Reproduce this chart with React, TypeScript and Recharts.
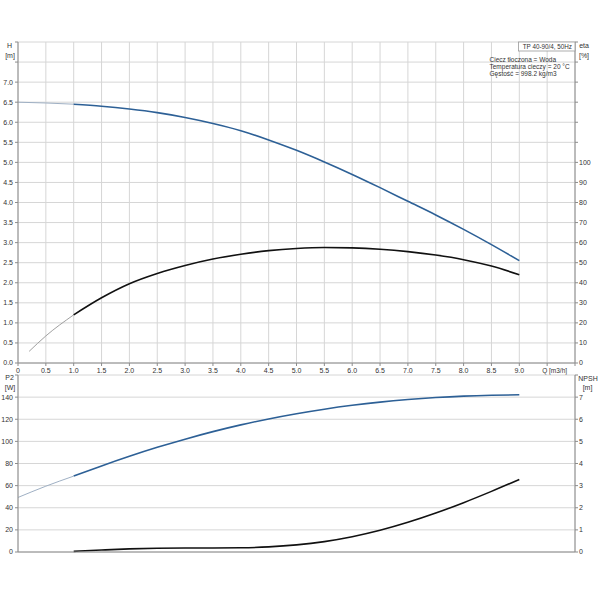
import React from 'react';
import { LineChart, Line, XAxis, YAxis, CartesianGrid } from 'recharts';

// ---- axis ticks ----
const qTicks = [0, 0.5, 1, 1.5, 2, 2.5, 3, 3.5, 4, 4.5, 5, 5.5, 6, 6.5, 7, 7.5, 8, 8.5, 9, 9.5, 10];
const hTicks = [0, 0.5, 1, 1.5, 2, 2.5, 3, 3.5, 4, 4.5, 5, 5.5, 6, 6.5, 7, 7.5, 8];
const etaTicks = [0, 10, 20, 30, 40, 50, 60, 70, 80, 90, 100, 110, 120, 130, 140, 150, 160];
const p2Ticks = [0, 20, 40, 60, 80, 100, 120, 140, 160];
const npshTicks = [0, 1, 2, 3, 4, 5, 6, 7, 8];

// ---- data: main (operating) range ----
const qMain = [1, 1.5, 2, 2.5, 3, 3.5, 4, 4.5, 5, 5.5, 6, 6.5, 7, 7.5, 8, 8.5, 9];
const hMain = [6.45, 6.4, 6.33, 6.24, 6.12, 5.97, 5.79, 5.56, 5.3, 5.01, 4.7, 4.37, 4.03, 3.69, 3.33, 2.95, 2.55];
const etaMain = [24, 32.5, 39.5, 44.6, 48.6, 51.8, 54.2, 56.0, 57.1, 57.6, 57.4, 56.7, 55.5, 53.8, 51.5, 48.3, 44];
const p2Main = [68.6, 77.8, 86.5, 94.6, 102.0, 108.8, 114.9, 120.3, 125.0, 129.1, 132.6, 135.5, 137.8, 139.6, 140.9, 141.7, 142.1];
const npshMain = [0.03, 0.09, 0.14, 0.17, 0.18, 0.18, 0.19, 0.23, 0.32, 0.47, 0.69, 0.98, 1.34, 1.76, 2.23, 2.74, 3.28];

// ---- data: low-flow (thin) range ----
const qStartH = [0, 0.5, 1];
const hStart = [6.5, 6.48, 6.45];
const qStartEta = [0.2, 0.5, 1];
const etaStart = [5.8, 13.5, 24];
const qStartP2 = [0, 0.5, 1];
const p2Start = [49.3, 59.5, 68.6];

const zip = (qs: number[], vs: number[]) => qs.map((q, i) => ({ q, v: vs[i] }));

const hMainData = zip(qMain, hMain);
const etaMainData = zip(qMain, etaMain);
const p2MainData = zip(qMain, p2Main);
const npshMainData = zip(qMain, npshMain);
const hStartData = zip(qStartH, hStart);
const etaStartData = zip(qStartEta, etaStart);
const p2StartData = zip(qStartP2, p2Start);

const FONT = '"Liberation Sans", Arial, sans-serif';
const BLUE = '#2d6096';
const BLACK = '#111111';
const GRID = '#d6d6d6';
const AXIS = '#8c8c8c';
const TXT = '#333333';

const fmtQ = (v: number) => (v === 0 ? '0' : v.toFixed(1));

const QTick = (props: any) => {
  const { x, y, payload } = props;
  const v = payload.value as number;
  if (v > 9.5) return <g />;
  if (v === 9.5) {
    return (
      <text x={x - 5} y={y} dy="0.71em" textAnchor="start" fontSize={6.5} fill={TXT} fontFamily={FONT}>
        Q [m3/h]
      </text>
    );
  }
  return (
    <text x={x} y={y} dy="0.71em" textAnchor="middle" fontSize={7} fill={TXT} fontFamily={FONT}>
      {fmtQ(v)}
    </text>
  );
};

const tickStyle = { fontSize: 7, fill: TXT, fontFamily: FONT };

export default function App() {
  return (
    <div style={{ position: 'absolute', left: 0, top: 0, width: 600, height: 600, background: '#fff', fontFamily: FONT }}>
      <div style={{ position: 'absolute', left: 0, top: 0 }}>
        <LineChart width={600} height={380} margin={{ top: 42, right: 0, bottom: 0, left: 0 }}>
          <CartesianGrid stroke={GRID} yAxisId="h" />
          <XAxis
            type="number"
            dataKey="q"
            domain={[0, 10]}
            ticks={qTicks}
            interval={0}
            height={17}
            allowDuplicatedCategory={false}
            tick={<QTick />}
            tickSize={3}
            tickMargin={2}
            stroke={AXIS}
          />
          <YAxis
            yAxisId="h"
            type="number"
            domain={[0, 8]}
            ticks={hTicks}
            interval={0}
            width={18}
            tickSize={3}
            tickMargin={2}
            stroke={AXIS}
            tick={tickStyle}
            tickFormatter={(v: number) => (v > 7 ? '' : v.toFixed(1))}
          />
          <YAxis
            yAxisId="eta"
            orientation="right"
            type="number"
            domain={[0, 160]}
            ticks={etaTicks}
            interval={0}
            width={25}
            tickSize={3}
            tickMargin={1}
            stroke={AXIS}
            tick={{ ...tickStyle, textAnchor: 'start' }}
            tickFormatter={(v: number) => (v > 100 ? '' : String(v))}
          />
          <Line yAxisId="h" data={hStartData} dataKey="v" type="monotone" stroke="#9fb0c4" strokeWidth={1} dot={false} isAnimationActive={false} />
          <Line yAxisId="h" data={hMainData} dataKey="v" type="monotone" stroke={BLUE} strokeWidth={1.6} dot={false} isAnimationActive={false} />
          <Line yAxisId="eta" data={etaStartData} dataKey="v" type="monotone" stroke="#a0a0a0" strokeWidth={1} dot={false} isAnimationActive={false} />
          <Line yAxisId="eta" data={etaMainData} dataKey="v" type="monotone" stroke={BLACK} strokeWidth={1.6} dot={false} isAnimationActive={false} />
        </LineChart>
      </div>

      <div style={{ position: 'absolute', left: 0, top: 370 }}>
        <LineChart width={600} height={185} margin={{ top: 5, right: 0, bottom: 0, left: 0 }}>
          <CartesianGrid stroke={GRID} yAxisId="p2" />
          <XAxis
            type="number"
            dataKey="q"
            domain={[0, 10]}
            ticks={qTicks}
            interval={0}
            height={3}
            tick={false}
            tickLine={false}
            stroke={AXIS}
          />
          <YAxis
            yAxisId="p2"
            type="number"
            domain={[0, 160]}
            ticks={p2Ticks}
            interval={0}
            width={18}
            tickSize={3}
            tickMargin={2}
            stroke={AXIS}
            tick={tickStyle}
            tickFormatter={(v: number) => (v > 140 ? '' : String(v))}
          />
          <YAxis
            yAxisId="npsh"
            orientation="right"
            type="number"
            domain={[0, 8]}
            ticks={npshTicks}
            interval={0}
            width={25}
            tickSize={3}
            tickMargin={1}
            stroke={AXIS}
            tick={{ ...tickStyle, textAnchor: 'start' }}
            tickFormatter={(v: number) => (v > 7 ? '' : String(v))}
          />
          <Line yAxisId="p2" data={p2StartData} dataKey="v" type="monotone" stroke="#9fb0c4" strokeWidth={1} dot={false} isAnimationActive={false} />
          <Line yAxisId="p2" data={p2MainData} dataKey="v" type="monotone" stroke={BLUE} strokeWidth={1.6} dot={false} isAnimationActive={false} />
          <Line yAxisId="npsh" data={npshMainData} dataKey="v" type="monotone" stroke={BLACK} strokeWidth={1.6} dot={false} isAnimationActive={false} />
        </LineChart>
      </div>

      <svg width={600} height={600} style={{ position: 'absolute', left: 0, top: 0, pointerEvents: 'none' }} fontFamily={FONT} fill={TXT}>
        <text x={9.5} y={48} fontSize={7} textAnchor="middle">H</text>
        <text x={10} y={57.5} fontSize={7} textAnchor="middle">[m]</text>
        <text x={584} y={48} fontSize={7} textAnchor="middle">eta</text>
        <text x={584} y={57.5} fontSize={7} textAnchor="middle">[%]</text>
        <rect x={518.5} y={42} width={56.5} height={9} fill="#fff" stroke="#9a9a9a" strokeWidth={0.8} />
        <text x={572} y={49} fontSize={6.3} textAnchor="end">TP 40-90/4, 50Hz</text>
        <text x={489.5} y={61.8} fontSize={6.5}>Ciecz tłoczona = Woda</text>
        <text x={489.5} y={69.2} fontSize={6.5}>Temperatura cieczy = 20 °C</text>
        <text x={489.5} y={76.4} fontSize={6.5}>Gęstość = 998.2 kg/m3</text>
        <text x={9.5} y={380} fontSize={7} textAnchor="middle">P2</text>
        <text x={10} y={389.5} fontSize={7} textAnchor="middle">[W]</text>
        <text x={588} y={381} fontSize={7} textAnchor="middle">NPSH</text>
        <text x={587.5} y={389.5} fontSize={7} textAnchor="middle">[m]</text>
      </svg>
    </div>
  );
}
